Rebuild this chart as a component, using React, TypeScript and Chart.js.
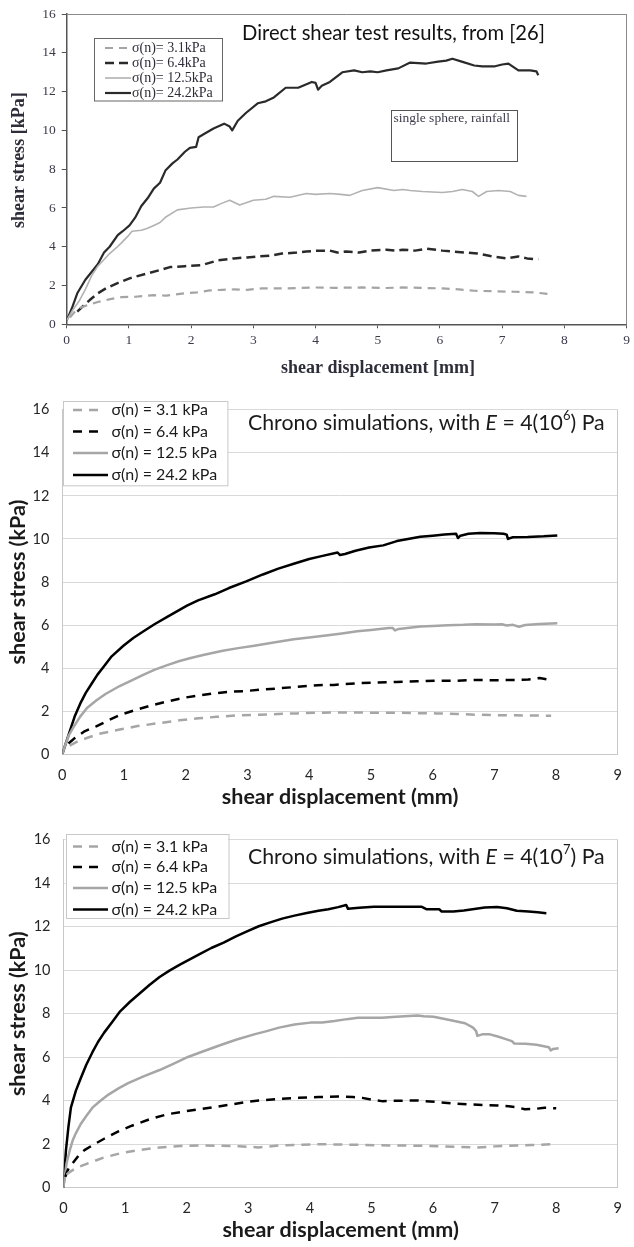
import React, { useEffect, useRef } from "react";
import { Chart, registerables } from "chart.js";

Chart.register(...registerables);

type Pt = [number, number];

// ---------- axis ranges / ticks ----------
const xRange: [number, number] = [0, 9];
const yRange: [number, number] = [0, 16];
const xStep = 1;
const yStep = 2;

// ---------- legend labels ----------
const expLabels = ["σ(n)= 3.1kPa", "σ(n)= 6.4kPa", "σ(n)= 12.5kPa", "σ(n)= 24.2kPa"];
const simLabels = ["σ(n) = 3.1 kPa", "σ(n) = 6.4 kPa", "σ(n) = 12.5 kPa", "σ(n) = 24.2 kPa"];

// ---------- titles ----------
const expTitle = "Direct shear test results, from [26]";
const expNote = "single sphere, rainfall";
const expXTitle = "shear displacement [mm]";
const expYTitle = "shear stress [kPa]";
const simXTitle = "shear displacement (mm)";
const simYTitle = "shear stress (kPa)";
const simTitleE6 = ["Chrono simulations, with ", "E", " = 4(10", "6", ") Pa"];
const simTitleE7 = ["Chrono simulations, with ", "E", " = 4(10", "7", ") Pa"];

// ---------- chart 1: direct shear test (experiment) ----------
const exp31: Pt[] = [
  [0.05, 0.35], [0.17, 0.8], [0.3, 0.95], [0.5, 1.15], [0.7, 1.3], [0.88, 1.4], [1.1, 1.42],
  [1.4, 1.5], [1.6, 1.48], [1.91, 1.6], [2.1, 1.65], [2.3, 1.75], [2.5, 1.78], [2.69, 1.8],
  [2.9, 1.78], [3.14, 1.85], [3.5, 1.85], [3.97, 1.9], [4.3, 1.88], [4.75, 1.9], [5.1, 1.87],
  [5.4, 1.9], [5.7, 1.88], [6.04, 1.85], [6.3, 1.8], [6.55, 1.73], [6.9, 1.7], [7.2, 1.68],
  [7.5, 1.65], [7.78, 1.55],
];
const exp64: Pt[] = [
  [0.17, 0.65], [0.25, 0.9], [0.37, 1.25], [0.5, 1.6], [0.63, 1.85], [0.8, 2.1], [1.01, 2.37],
  [1.27, 2.6], [1.5, 2.8], [1.66, 2.95], [1.9, 3.0], [2.17, 3.05], [2.43, 3.3], [2.69, 3.4],
  [2.9, 3.45], [3.07, 3.5], [3.3, 3.55], [3.46, 3.65], [3.7, 3.7], [3.85, 3.75], [4.05, 3.8],
  [4.23, 3.8], [4.35, 3.7], [4.49, 3.75], [4.7, 3.7], [4.88, 3.8], [5.14, 3.85], [5.3, 3.8],
  [5.4, 3.85], [5.6, 3.8], [5.78, 3.9], [6.04, 3.8], [6.2, 3.75], [6.42, 3.7], [6.6, 3.65],
  [6.81, 3.52], [7.07, 3.4], [7.26, 3.5], [7.4, 3.4], [7.58, 3.35],
];
const exp125: Pt[] = [
  [0, 0.2], [0.1, 0.75], [0.2, 1.2], [0.3, 1.8], [0.4, 2.5], [0.5, 3.0], [0.56, 3.2], [0.69, 3.65],
  [0.8, 3.95], [0.88, 4.2], [1.0, 4.6], [1.05, 4.8], [1.2, 4.85], [1.3, 4.95], [1.4, 5.1],
  [1.5, 5.25], [1.6, 5.55], [1.78, 5.9], [2.0, 6.0], [2.2, 6.05], [2.36, 6.05], [2.5, 6.25],
  [2.62, 6.4], [2.78, 6.15], [3.0, 6.4], [3.2, 6.45], [3.33, 6.6], [3.59, 6.55], [3.85, 6.75],
  [4.0, 6.7], [4.23, 6.75], [4.4, 6.7], [4.55, 6.65], [4.75, 6.9], [5.0, 7.05], [5.26, 6.9],
  [5.4, 6.95], [5.52, 6.9], [5.72, 6.85], [6.04, 6.8], [6.2, 6.85], [6.36, 6.95], [6.52, 6.85],
  [6.62, 6.6], [6.75, 6.85], [6.94, 6.9], [7.13, 6.85], [7.26, 6.65], [7.39, 6.6],
];
const exp242: Pt[] = [
  [0, 0.2], [0.08, 0.8], [0.17, 1.6], [0.3, 2.3], [0.4, 2.7], [0.5, 3.1], [0.6, 3.7], [0.69, 4.0],
  [0.82, 4.6], [0.9, 4.8], [1.01, 5.1], [1.1, 5.5], [1.2, 6.1], [1.3, 6.5], [1.4, 7.0], [1.5, 7.3],
  [1.59, 7.95], [1.7, 8.3], [1.78, 8.5], [1.9, 8.9], [1.98, 9.1], [2.08, 9.15], [2.12, 9.65],
  [2.2, 9.8], [2.36, 10.1], [2.53, 10.35], [2.62, 10.2], [2.66, 10.0], [2.75, 10.5], [2.88, 10.9],
  [3.07, 11.4], [3.2, 11.5], [3.33, 11.7], [3.52, 12.2], [3.72, 12.2], [3.94, 12.5], [4.0, 12.45],
  [4.04, 12.1], [4.1, 12.3], [4.23, 12.5], [4.43, 13.0], [4.62, 13.1], [4.75, 13.0], [4.88, 13.05],
  [5.0, 13.0], [5.14, 13.1], [5.33, 13.2], [5.52, 13.5], [5.78, 13.45], [5.97, 13.55], [6.1, 13.6],
  [6.2, 13.7], [6.35, 13.55], [6.55, 13.35], [6.68, 13.3], [6.87, 13.3], [7.0, 13.4], [7.1, 13.45],
  [7.26, 13.1], [7.45, 13.1], [7.55, 13.05], [7.58, 12.85],
];

// ---------- chart 2: simulation, E = 4e6 Pa ----------
const sim6_31: Pt[] = [
  [0.12, 0.4], [0.25, 0.6], [0.42, 0.78], [0.6, 0.95], [0.93, 1.15], [1.2, 1.3], [1.57, 1.45],
  [1.9, 1.58], [2.21, 1.67], [2.5, 1.74], [2.85, 1.81], [3.2, 1.84], [3.5, 1.87], [3.8, 1.9],
  [4.14, 1.93], [4.5, 1.94], [4.78, 1.94], [5.1, 1.93], [5.42, 1.93], [5.75, 1.91], [6.06, 1.9],
  [6.4, 1.87], [6.7, 1.84], [7.0, 1.82], [7.34, 1.81], [7.6, 1.8], [7.92, 1.79],
];
const sim6_64: Pt[] = [
  [0.1, 0.5], [0.2, 0.75], [0.35, 1.05], [0.55, 1.3], [0.75, 1.58], [0.93, 1.82], [1.2, 2.07],
  [1.44, 2.27], [1.7, 2.45], [1.96, 2.62], [2.2, 2.73], [2.47, 2.83], [2.7, 2.9], [2.98, 2.94],
  [3.2, 3.0], [3.5, 3.06], [3.8, 3.13], [4.14, 3.21], [4.4, 3.22], [4.78, 3.3], [5.1, 3.33],
  [5.42, 3.36], [5.75, 3.39], [6.06, 3.42], [6.4, 3.42], [6.7, 3.45], [7.0, 3.44], [7.34, 3.45],
  [7.55, 3.47], [7.73, 3.54], [7.92, 3.45],
];
const sim6_125: Pt[] = [
  [0, 0], [0.05, 0.45], [0.1, 0.85], [0.2, 1.35], [0.29, 1.75], [0.4, 2.15], [0.55, 2.5], [0.7, 2.8],
  [0.93, 3.17], [1.1, 3.4], [1.31, 3.69], [1.5, 3.93], [1.7, 4.14], [1.9, 4.33], [2.08, 4.47],
  [2.3, 4.62], [2.6, 4.81], [2.85, 4.93], [3.11, 5.04], [3.4, 5.18], [3.75, 5.34], [4.0, 5.42],
  [4.27, 5.52], [4.5, 5.6], [4.78, 5.71], [5.0, 5.77], [5.29, 5.86], [5.35, 5.87], [5.39, 5.75],
  [5.45, 5.82], [5.8, 5.93], [6.0, 5.96], [6.25, 5.99], [6.5, 6.01], [6.7, 6.04], [7.0, 6.03],
  [7.12, 6.04], [7.2, 5.98], [7.3, 6.01], [7.4, 5.92], [7.5, 6.0], [7.73, 6.05], [8.02, 6.08],
];
const sim6_242: Pt[] = [
  [0, 0], [0.05, 0.45], [0.13, 1.15], [0.2, 1.75], [0.29, 2.35], [0.38, 2.85], [0.48, 3.3],
  [0.57, 3.7], [0.67, 4.07], [0.8, 4.55], [0.99, 5.04], [1.15, 5.4], [1.31, 5.7], [1.5, 6.05],
  [1.7, 6.38], [2.02, 6.9], [2.2, 7.15], [2.47, 7.43], [2.7, 7.72], [2.98, 8.03], [3.25, 8.35],
  [3.5, 8.62], [3.75, 8.85], [4.0, 9.07], [4.2, 9.2], [4.46, 9.37], [4.5, 9.25], [4.58, 9.3],
  [4.75, 9.45], [4.97, 9.6], [5.2, 9.7], [5.42, 9.9], [5.6, 10.0], [5.8, 10.1], [6.0, 10.15],
  [6.19, 10.2], [6.38, 10.24], [6.41, 10.04], [6.45, 10.15], [6.58, 10.24], [6.77, 10.27],
  [7.0, 10.26], [7.15, 10.24], [7.2, 10.2], [7.22, 10.0], [7.3, 10.08], [7.54, 10.09],
  [7.8, 10.12], [8.02, 10.16],
];

// ---------- chart 3: simulation, E = 4e7 Pa ----------
const sim7_31: Pt[] = [
  [0.05, 0.6], [0.08, 0.68], [0.2, 0.9], [0.41, 1.13], [0.65, 1.38], [0.92, 1.58], [1.2, 1.72],
  [1.56, 1.85], [1.9, 1.92], [2.21, 1.94], [2.5, 1.93], [2.85, 1.91], [3.17, 1.85], [3.5, 1.94],
  [3.8, 1.97], [4.14, 2.0], [4.4, 1.99], [4.78, 1.97], [5.1, 1.95], [5.43, 1.94], [5.8, 1.93],
  [6.07, 1.91], [6.4, 1.88], [6.72, 1.85], [7.0, 1.9], [7.36, 1.94], [7.6, 1.96], [7.94, 2.0],
];
const sim7_64: Pt[] = [
  [0.03, 0.5], [0.05, 0.68], [0.1, 1.0], [0.15, 1.13], [0.25, 1.5], [0.34, 1.73], [0.5, 2.0],
  [0.66, 2.25], [0.9, 2.6], [1.11, 2.85], [1.4, 3.15], [1.69, 3.38], [1.95, 3.5], [2.21, 3.61],
  [2.5, 3.73], [2.72, 3.83], [3.0, 3.95], [3.17, 4.01], [3.5, 4.08], [3.82, 4.13], [4.14, 4.17],
  [4.46, 4.19], [4.7, 4.17], [4.85, 4.13], [5.0, 4.05], [5.17, 3.98], [5.4, 4.0], [5.75, 4.01],
  [6.1, 3.93], [6.39, 3.86], [6.6, 3.83], [6.84, 3.8], [7.05, 3.78], [7.23, 3.74], [7.35, 3.7],
  [7.49, 3.61], [7.65, 3.62], [7.81, 3.68], [8.0, 3.65],
];
const sim7_125: Pt[] = [
  [0, 0], [0.03, 0.7], [0.05, 1.13], [0.1, 1.7], [0.15, 2.18], [0.2, 2.5], [0.28, 2.93], [0.37, 3.3],
  [0.47, 3.68], [0.6, 4.0], [0.73, 4.28], [0.9, 4.58], [1.05, 4.81], [1.3, 5.12], [1.56, 5.41],
  [1.8, 5.72], [2.02, 6.01], [2.25, 6.25], [2.53, 6.54], [2.8, 6.8], [3.11, 7.06], [3.3, 7.2],
  [3.5, 7.36], [3.75, 7.5], [4.01, 7.59], [4.2, 7.6], [4.4, 7.66], [4.6, 7.75], [4.78, 7.81],
  [5.17, 7.81], [5.4, 7.86], [5.75, 7.92], [5.85, 7.88], [6.01, 7.86], [6.15, 7.78], [6.27, 7.71],
  [6.52, 7.56], [6.65, 7.36], [6.7, 7.2], [6.72, 6.98], [6.8, 7.05], [6.91, 7.06], [7.05, 6.95],
  [7.17, 6.84], [7.28, 6.74], [7.32, 6.63], [7.5, 6.62], [7.68, 6.57], [7.88, 6.46], [7.91, 6.31],
  [7.95, 6.38], [8.04, 6.41],
];
const sim7_242: Pt[] = [
  [0, 0], [0.02, 0.9], [0.04, 1.73], [0.08, 2.8], [0.12, 3.68], [0.2, 4.45], [0.28, 5.03],
  [0.37, 5.65], [0.47, 6.23], [0.56, 6.7], [0.66, 7.13], [0.8, 7.65], [0.92, 8.11], [1.08, 8.55],
  [1.24, 8.94], [1.4, 9.33], [1.56, 9.69], [1.72, 9.98], [1.89, 10.26], [2.05, 10.5], [2.21, 10.74],
  [2.4, 11.02], [2.6, 11.27], [2.8, 11.56], [2.98, 11.79], [3.17, 12.02], [3.37, 12.21],
  [3.55, 12.37], [3.75, 12.51], [3.95, 12.63], [4.14, 12.73], [4.3, 12.8], [4.46, 12.9],
  [4.59, 13.0], [4.62, 12.82], [4.8, 12.87], [5.04, 12.92], [5.4, 12.92], [5.81, 12.92],
  [5.9, 12.8], [6.1, 12.8], [6.14, 12.7], [6.33, 12.7], [6.5, 12.75], [6.84, 12.88], [7.04, 12.91],
  [7.2, 12.85], [7.36, 12.73], [7.55, 12.7], [7.7, 12.66], [7.84, 12.62],
];

// ---------------------------------------------------------------
const toXY = (pts: Pt[]) => pts.map(([x, y]) => ({ x, y }));

const SERIF = '"Liberation Serif", "Times New Roman", serif';
const SANS = 'Lato, "Noto Sans", sans-serif';

type LegendSpec = {
  x: number; y: number; w: number; h: number; rows: number[];
  lineX: number; dashEnd: number; solidEnd: number; textX: number;
  font: string; color: string; border: string;
};

function drawLegend(chart: any, L: LegendSpec) {
  const ctx: CanvasRenderingContext2D = chart.ctx;
  ctx.save();
  ctx.fillStyle = "#ffffff";
  ctx.fillRect(L.x, L.y, L.w, L.h);
  ctx.strokeStyle = L.border;
  ctx.lineWidth = 1;
  ctx.strokeRect(Math.round(L.x) + 0.5, Math.round(L.y) + 0.5, L.w, L.h);
  chart.data.datasets.forEach((ds: any, i: number) => {
    const y = L.rows[i];
    ctx.beginPath();
    ctx.setLineDash(ds.borderDash || []);
    ctx.strokeStyle = ds.borderColor;
    ctx.lineWidth = ds.borderWidth;
    ctx.moveTo(L.lineX, y);
    ctx.lineTo(ds.borderDash ? L.dashEnd : L.solidEnd, y);
    ctx.stroke();
    ctx.setLineDash([]);
    ctx.font = L.font;
    ctx.fillStyle = L.color;
    ctx.textAlign = "left";
    ctx.textBaseline = "middle";
    ctx.fillText(ds.label, L.textX, y);
  });
  ctx.restore();
}

function drawVerticalTitle(ctx: CanvasRenderingContext2D, text: string, x: number, y: number, font: string, color: string) {
  ctx.save();
  ctx.translate(x, y);
  ctx.rotate(-Math.PI / 2);
  ctx.font = font;
  ctx.fillStyle = color;
  ctx.textAlign = "center";
  ctx.textBaseline = "middle";
  ctx.fillText(text, 0, 0);
  ctx.restore();
}

function drawRichTitle(ctx: CanvasRenderingContext2D, parts: string[], x: number, y: number, size: number) {
  // parts: normal, italic, normal, superscript, normal
  ctx.save();
  ctx.textBaseline = "middle";
  ctx.textAlign = "left";
  ctx.fillStyle = "#1a1a1a";
  let cx = x;
  parts.forEach((p, i) => {
    let font = `${size}px ${SANS}`;
    let dy = 0;
    if (i === 1) font = `italic ${size}px ${SANS}`;
    if (i === 3) { font = `${Math.round(size * 0.6)}px ${SANS}`; dy = -size * 0.33; }
    ctx.font = font;
    ctx.fillText(p, cx, y + dy);
    cx += ctx.measureText(p).width;
  });
  ctx.restore();
}

// ---------------- chart 1 config ----------------
function expConfig(): any {
  const overlay = {
    id: "overlayExp",
    beforeDatasetsDraw(chart: any) {
      const { ctx, chartArea: a } = chart;
      ctx.save();
      ctx.strokeStyle = "#8a8a8a";
      ctx.lineWidth = 1;
      ctx.beginPath();
      ctx.moveTo(a.left, Math.round(a.top) + 0.5);
      ctx.lineTo(a.right, Math.round(a.top) + 0.5);
      ctx.moveTo(Math.round(a.right) - 0.5, a.top);
      ctx.lineTo(Math.round(a.right) - 0.5, a.bottom);
      ctx.stroke();
      ctx.restore();
    },
    afterDatasetsDraw(chart: any) {
      const { ctx, chartArea: a } = chart;
      ctx.save();
      ctx.font = `20.2px ${SANS}`;
      ctx.fillStyle = "#111";
      ctx.textBaseline = "middle";
      ctx.textAlign = "left";
      ctx.fillText(expTitle, 242, 33);
      // note box
      ctx.fillStyle = "#fff";
      ctx.fillRect(391, 110, 126, 51);
      ctx.strokeStyle = "#555";
      ctx.lineWidth = 1;
      ctx.strokeRect(391.5, 110.5, 126, 51);
      ctx.font = `13.5px ${SERIF}`;
      ctx.fillStyle = "#3c3c4c";
      ctx.fillText(expNote, 393.5, 118);
      // axis titles
      ctx.font = `bold 18px ${SERIF}`;
      ctx.fillStyle = "#2e2e3a";
      ctx.textAlign = "center";
      ctx.fillText(expXTitle, 378, 368);
      ctx.restore();
      drawVerticalTitle(ctx, expYTitle, 19.5, (a.top + a.bottom) / 2 - 9, `bold 18px ${SERIF}`, "#2e2e3a");
      drawLegend(chart, {
        x: 94, y: 37.5, w: 128, h: 62.5, rows: [48, 63, 78, 93],
        lineX: 105, dashEnd: 130, solidEnd: 131, textX: 132,
        font: `14px ${SERIF}`, color: "#2e2e3a", border: "#666",
      });
    },
  };
  const tickFont = { family: SERIF, size: 13.5 };
  return {
    type: "line",
    data: {
      datasets: [
        { label: expLabels[0], data: toXY(exp31), borderColor: "#a4a4a4", borderWidth: 2.2, borderDash: [8, 6] },
        { label: expLabels[1], data: toXY(exp64), borderColor: "#2a2a2a", borderWidth: 2.5, borderDash: [9, 5] },
        { label: expLabels[2], data: toXY(exp125), borderColor: "#b2b2b2", borderWidth: 1.6 },
        { label: expLabels[3], data: toXY(exp242), borderColor: "#2a2a2a", borderWidth: 2.2 },
      ],
    },
    options: {
      animation: false,
      responsive: true,
      maintainAspectRatio: false,
      events: [],
      elements: { point: { radius: 0 }, line: { tension: 0, borderJoinStyle: "round", fill: false } },
      layout: { padding: { top: 14, right: 2, left: 0, bottom: 0 } },
      plugins: { legend: { display: false }, tooltip: { enabled: false }, title: { display: false } },
      scales: {
        x: {
          type: "linear", min: xRange[0], max: xRange[1],
          ticks: { stepSize: xStep, autoSkip: false, font: tickFont, color: "#3a3a4a", padding: 4 },
          grid: { drawOnChartArea: false, drawTicks: true, tickLength: 4, color: "#555" },
          border: { color: "#555", width: 1.5 },
          afterFit: (s: any) => { s.height = 388 - 324.3; },
        },
        y: {
          type: "linear", min: yRange[0], max: yRange[1],
          ticks: { stepSize: yStep, autoSkip: false, font: tickFont, color: "#3a3a4a", padding: 6 },
          grid: { drawOnChartArea: false, drawTicks: true, tickLength: 5, color: "#555" },
          border: { color: "#555", width: 1.5 },
          afterFit: (s: any) => { s.width = 66.7; },
        },
      },
    },
    plugins: [overlay],
  };
}

// ---------------- chart 2/3 config ----------------
type SimSpec = {
  series: Pt[][];
  titleParts: string[];
  titleY: number;
  canvasH: number;
  plotTop: number;
  plotBottom: number;
  plotLeft: number;
  xTitleY: number;
  legend: LegendSpec;
};

function simConfig(spec: SimSpec): any {
  const overlay = {
    id: "overlaySim",
    beforeDatasetsDraw(chart: any) {
      const { ctx, chartArea: a } = chart;
      ctx.save();
      ctx.strokeStyle = "#c8c8c8";
      ctx.lineWidth = 1;
      ctx.beginPath();
      ctx.moveTo(Math.round(a.right) - 0.5, a.top);
      ctx.lineTo(Math.round(a.right) - 0.5, a.bottom);
      ctx.stroke();
      ctx.restore();
    },
    afterDatasetsDraw(chart: any) {
      const { ctx, chartArea: a } = chart;
      drawRichTitle(ctx, spec.titleParts, 248, spec.titleY, 21.3);
      ctx.save();
      ctx.font = `bold 21.5px ${SANS}`;
      ctx.fillStyle = "#1a1a1a";
      ctx.textAlign = "center";
      ctx.textBaseline = "middle";
      ctx.fillText(simXTitle, (a.left + a.right) / 2, spec.xTitleY);
      ctx.restore();
      drawVerticalTitle(ctx, simYTitle, 18.5, (a.top + a.bottom) / 2, `bold 21.5px ${SANS}`, "#1a1a1a");
      drawLegend(chart, spec.legend);
    },
  };
  const tickFont = { family: SANS, size: 14.5 };
  const styles = [
    { borderColor: "#a6a6a6", borderWidth: 2.5, borderDash: [9, 7] },
    { borderColor: "#000000", borderWidth: 2.5, borderDash: [9, 7] },
    { borderColor: "#a6a6a6", borderWidth: 2.5 },
    { borderColor: "#000000", borderWidth: 2.5 },
  ];
  return {
    type: "line",
    data: {
      datasets: spec.series.map((s, i) => ({ label: simLabels[i], data: toXY(s), ...styles[i] })),
    },
    options: {
      animation: false,
      responsive: true,
      maintainAspectRatio: false,
      events: [],
      elements: { point: { radius: 0 }, line: { tension: 0, borderJoinStyle: "round", fill: false } },
      layout: { padding: { top: spec.plotTop, right: 3, left: 0, bottom: 0 } },
      plugins: { legend: { display: false }, tooltip: { enabled: false }, title: { display: false } },
      scales: {
        x: {
          type: "linear", min: xRange[0], max: xRange[1],
          ticks: { stepSize: xStep, autoSkip: false, font: tickFont, color: "#262626", padding: 12 },
          grid: { display: false, drawTicks: false },
          border: { color: "#c8c8c8", width: 1 },
          afterFit: (s: any) => { s.height = spec.canvasH - spec.plotBottom; },
        },
        y: {
          type: "linear", min: yRange[0], max: yRange[1],
          ticks: { stepSize: yStep, autoSkip: false, font: tickFont, color: "#262626", padding: 13 },
          grid: { color: "#d9d9d9", drawTicks: false, lineWidth: 1 },
          border: { color: "#c8c8c8", width: 1 },
          afterFit: (s: any) => { s.width = spec.plotLeft; },
        },
      },
    },
    plugins: [overlay],
  };
}

const simLegendBase = {
  lineX: 73, dashEnd: 100, solidEnd: 108, textX: 111.5,
  font: `16px ${SANS}`, color: "#1a1a1a", border: "#c8c8c8",
};

function ChartBox({ height, make }: { height: number; make: () => any }) {
  const ref = useRef<HTMLCanvasElement>(null);
  useEffect(() => {
    const chart = new Chart(ref.current as HTMLCanvasElement, make());
    return () => chart.destroy();
  }, []);
  return (
    <div style={{ position: "relative", width: 634, height }}>
      <canvas ref={ref} />
    </div>
  );
}

export default function App() {
  return (
    <div style={{ position: "absolute", left: 0, top: 0, width: 634, height: 1247, background: "#fff" }}>
      <ChartBox height={388} make={expConfig} />
      <ChartBox
        height={430}
        make={() =>
          simConfig({
            series: [sim6_31, sim6_64, sim6_125, sim6_242],
            titleParts: simTitleE6,
            titleY: 35,
            canvasH: 430,
            plotTop: 12.7,
            plotBottom: 366.3,
            plotLeft: 62.3,
            xTitleY: 409,
            legend: { ...simLegendBase, x: 63.3, y: 12.7, w: 164.4, h: 84.3, rows: [22, 43.5, 65, 87] },
          })
        }
      />
      <ChartBox
        height={429}
        make={() =>
          simConfig({
            series: [sim7_31, sim7_64, sim7_125, sim7_242],
            titleParts: simTitleE7,
            titleY: 39,
            canvasH: 429,
            plotTop: 14.5,
            plotBottom: 369.7,
            plotLeft: 63.5,
            xTitleY: 412,
            legend: { ...simLegendBase, x: 65.5, y: 16, w: 162.5, h: 84, rows: [28.5, 49, 70, 91.5] },
          })
        }
      />
    </div>
  );
}
